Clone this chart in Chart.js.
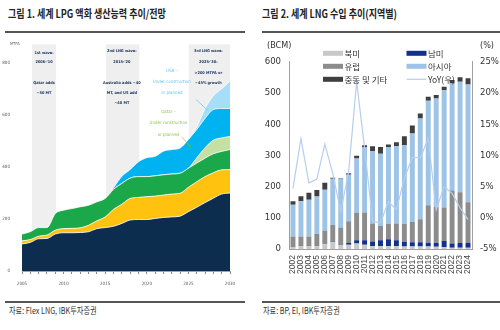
<!DOCTYPE html>
<html>
<head>
<meta charset="utf-8">
<script src="https://cdn.jsdelivr.net/npm/chart.js@4.4.1/dist/chart.umd.min.js"></script>
<style>
  body { margin: 0; width: 500px; height: 330px; background: #fff; position: relative; overflow: hidden; font-family: "Noto Sans CJK KR", sans-serif; }
  .t { position: absolute; white-space: nowrap; transform-origin: 0 50%; color: #222; }
  .title { top: 5px; font-size: 11px; font-weight: bold; transform: scaleX(0.82); }
  .src { top: 304px; font-size: 9px; transform: scaleX(0.8); color: #333; }
  .rule { position: absolute; height: 2px; background: #555; }
  canvas { position: absolute; top: 36px; }
</style>
</head>
<body>
<div class="t title" style="left:8px">그림 1. 세계 LPG 액화 생산능력 추이/전망</div>
<div class="t title" style="left:262px">그림 2. 세계 LNG 수입 추이(지역별)</div>
<div class="rule" style="left:5px; width:240px; top:31px"></div>
<div class="rule" style="left:262px; width:238px; top:31px"></div>
<div class="rule" style="left:5px; width:240px; top:301px"></div>
<div class="rule" style="left:262px; width:238px; top:301px"></div>
<div class="t src" style="left:9px">자료: Flex LNG, IBK투자증권</div>
<div class="t src" style="left:263px">자료: BP, EI, IBK투자증권</div>
<canvas id="cap" width="250" height="264" style="left:0"></canvas>
<canvas id="imp" width="250" height="264" style="left:250px"></canvas>
<script>
const NARROW = '"Liberation Sans Narrow", "DejaVu Sans Condensed", "Liberation Sans", sans-serif';
const KR = '"Noto Sans CJK KR", sans-serif';

// ---- 그림 1: 액화 생산능력 (MTPA) ----
const capYears = [2005, 2006, 2007, 2008, 2009, 2010, 2011, 2012, 2013, 2014, 2015, 2016, 2017,
                  2018, 2019, 2020, 2021, 2022, 2023, 2024, 2025, 2026, 2027, 2028, 2029, 2030];
const otherCap     = [104, 110, 124, 125, 142, 147, 147, 148, 151, 163, 167, 172, 183, 196, 198, 198, 202, 206, 208, 211, 228, 245, 263, 280, 296, 300];
const australiaCap = [12, 11, 10, 13, 15, 16, 17, 18, 25, 30, 41, 65, 74, 83, 85, 88, 86, 86, 88, 88, 94, 98, 100, 98, 93, 90];
const qatarCap     = [26, 30, 33, 29, 64, 71, 76, 81, 77, 73, 71, 77, 80, 78, 80, 77, 78, 78, 77, 77, 73, 72, 71, 73, 71, 77];
const qatarPlanned = [0, 0, 0, 0, 0, 0, 0, 0, 0, 0, 0, 0, 0, 0, 0, 0, 0, 0, 0, 0, 0, 20, 40, 52, 52, 50];
const usCap        = [0, 0, 0, 0, 0, 0, 0, 0, 0, 0, 0, 6, 27, 33, 57, 73, 75, 91, 94, 97, 111, 109, 113, 118, 113, 108];
const usPlanned    = [0, 0, 0, 0, 0, 0, 0, 0, 0, 0, 0, 0, 0, 0, 0, 0, 0, 0, 0, 0, 0, 10, 38, 53, 76, 106];

// ---- 그림 2: 지역별 LNG 수입 (BCM) ----
const importYears = ['2002', '2003', '2004', '2005', '2006', '2007', '2008', '2009', '2010', '2011', '2012', '2013',
                     '2014', '2015', '2016', '2017', '2018', '2019', '2020', '2021', '2022', '2023', '2024'];
const northAmerica    = [5, 8, 8, 10, 15, 22, 13, 14, 18, 14, 10, 9, 9, 10, 8, 8, 8, 8, 7, 6, 4, 4, 4];
const southAmerica    = [0, 0, 0, 0, 0, 1, 1, 5, 10, 14, 14, 19, 22, 18, 15, 14, 14, 12, 12, 20, 14, 15, 16];
const europe          = [35, 32, 32, 38, 44, 54, 55, 70, 88, 89, 58, 46, 49, 54, 57, 65, 73, 120, 116, 107, 169, 163, 130];
const asia            = [102, 113, 118, 120, 131, 148, 156, 149, 174, 208, 232, 231, 247, 248, 252, 283, 323, 335, 347, 376, 343, 354, 377];
const middleEastOther = [11, 16, 22, 21, 22, 3, 2, 5, 9, 7, 15, 22, 8, 12, 29, 26, 16, 13, 11, 11, 11, 14, 20];
const yoyGrowth       = [4.7, 12.7, 5.6, 6.2, 11.8, 7.1, 1.0, 7.4, 21.8, 11.2, -0.5, -0.8, 2.6, 1.3, 6.3, 9.7, 9.6, 12.7, 1.3, 5.0, 3.9, 1.6, -0.3];

// wave boxes and notes of figure 1, in (year, MTPA) units
const waveTop = 872;
const waves = [
  { from: 2006.2, to: 2009.1, cx: 2007.65, lines: [['1st wave:', 840], ["2006-'10", 802], ['Qatar adds', 725], ['~50 MT', 686]] },
  { from: 2015.1, to: 2019.1, cx: 2017.0, lines: [['2nd LNG wave:', 846], ["2015-'20", 802], ['Australia adds ~40', 725], ['MT, and US add', 686], ['~40 MT', 647]] },
  { from: 2025.05, to: 2030, cx: 2027.4, lines: [['3rd LNG wave:', 846], ["2025-'30:", 802], ['>200 MTPA or', 763], ['~45% growth', 725]] }
];
const notes = [
  { color: '#5ec6f2', cx: 2023.0, lines: [['USA \u2013', 768], ['Under construction', 726], ['or planned', 687]], lead: [[2025.9, 660], [2027.3, 619]] },
  { color: '#8dc63f', cx: 2022.6, lines: [['Qatar \u2013', 614], ['Under construction', 570], ['or planned', 525]], lead: [[2024.2, 516], [2025.3, 477]] }
];

const wavePlugin = {
  id: 'waves',
  beforeDatasetsDraw(chart) {
    const { ctx, scales: { x, y } } = chart;
    ctx.save();
    ctx.fillStyle = '#efefef';
    waves.forEach(w => {
      const l = x.getPixelForValue(w.from), r = x.getPixelForValue(w.to);
      const t = y.getPixelForValue(waveTop), b = y.getPixelForValue(0);
      ctx.fillRect(l, t, r - l, b - t);
    });
    ctx.restore();
  },
  afterDatasetsDraw(chart) {
    const { ctx, scales: { x, y } } = chart;
    ctx.save();
    ctx.textAlign = 'center';
    ctx.textBaseline = 'middle';
    ctx.font = 'bold 3.9px ' + NARROW;
    ctx.fillStyle = '#1f3864';
    waves.forEach(w => {
      w.lines.forEach(([s, v]) => ctx.fillText(s, x.getPixelForValue(w.cx), y.getPixelForValue(v)));
    });
    ctx.font = '4.4px ' + NARROW;
    notes.forEach(n => {
      ctx.fillStyle = n.color;
      n.lines.forEach(([s, v]) => ctx.fillText(s, x.getPixelForValue(n.cx), y.getPixelForValue(v)));
      ctx.strokeStyle = n.color;
      ctx.lineWidth = 0.7;
      ctx.beginPath();
      ctx.moveTo(x.getPixelForValue(n.lead[0][0]), y.getPixelForValue(n.lead[0][1]));
      ctx.lineTo(x.getPixelForValue(n.lead[1][0]), y.getPixelForValue(n.lead[1][1]));
      ctx.stroke();
    });
    ctx.fillStyle = '#666';
    ctx.font = '4px ' + NARROW;
    ctx.textAlign = 'left';
    ctx.fillText('MTPA', 10, y.getPixelForValue(waveTop));
    ctx.restore();
  }
};

const layer = (label, data, color, fill) => ({
  label,
  data: data.map((v, i) => ({ x: capYears[i], y: v })),
  backgroundColor: color,
  borderColor: '#ffffff',
  borderWidth: 0.8,
  fill,
  pointRadius: 0,
  cubicInterpolationMode: 'monotone'
});

new Chart('cap', {
  type: 'line',
  data: {
    datasets: [
      layer('Other', otherCap, '#0c2d4e', 'origin'),
      layer('Australia', australiaCap, '#ffc20e', '-1'),
      layer('Qatar', qatarCap, '#1aa84b', '-1'),
      layer('Qatar planned', qatarPlanned, '#c4e0a2', '-1'),
      layer('USA', usCap, '#00b2ef', '-1'),
      layer('USA planned', usPlanned, '#a6defa', '-1')
    ]
  },
  options: {
    responsive: false,
    animation: false,
    devicePixelRatio: 1,
    layout: { padding: { top: 27, right: 20, left: 0, bottom: 0 } },
    plugins: { legend: { display: false }, tooltip: { enabled: false } },
    scales: {
      x: {
        type: 'linear', min: 2005, max: 2030,
        afterFit: s => { s.height = 29; },
        border: { display: true, color: '#8a8a8a', width: 0.8 },
        grid: { display: true, drawOnChartArea: false, drawTicks: true, tickLength: 3, color: '#8a8a8a' },
        ticks: {
          stepSize: 1, autoSkip: false, maxRotation: 0, padding: 7, color: '#555',
          font: { size: 4.5, family: NARROW },
          callback: v => (v % 5 === 0 ? String(v) : '')
        }
      },
      y: {
        stacked: true, min: 0, max: 800,
        afterFit: s => { s.width = 22; },
        border: { display: false },
        grid: { display: false },
        ticks: { stepSize: 200, padding: 4, color: '#555', font: { size: 4.5, family: NARROW } }
      }
    }
  },
  plugins: [wavePlugin]
});

// ---- 그림 2 ----
const legendPlugin = {
  id: 'lngLegend',
  afterDraw(chart) {
    const { ctx, chartArea: a } = chart;
    ctx.save();
    ctx.textBaseline = 'middle';
    ctx.font = '8.5px ' + KR;
    chart.data.datasets.forEach((ds, i) => {
      const col = i % 2, row = Math.floor(i / 2);
      const sx = a.left + 34 + col * 83.5;
      const sy = a.top - 8.4 + row * 13;
      if (ds.type === 'line') {
        ctx.strokeStyle = ds.borderColor;
        ctx.lineWidth = 1.2;
        ctx.beginPath();
        ctx.moveTo(sx, sy);
        ctx.lineTo(sx + 20, sy);
        ctx.stroke();
      } else {
        ctx.fillStyle = ds.backgroundColor;
        ctx.fillRect(sx, sy - 2.5, 20, 5);
      }
      ctx.fillStyle = '#333';
      ctx.fillText(ds.label, sx + 21.5, sy);
    });
    ctx.font = '9px ' + NARROW;
    ctx.fillStyle = '#333';
    ctx.textAlign = 'left';
    ctx.fillText('(BCM)', 17, 10);
    ctx.fillText('(%)', 230, 10);
    ctx.restore();
  }
};

const bar = (label, data, color) => ({
  type: 'bar', label, data, backgroundColor: color, order: 1,
  barPercentage: 0.62, categoryPercentage: 1, yAxisID: 'y'
});

const axisFont = { size: 9.5, family: NARROW };

new Chart('imp', {
  data: {
    labels: importYears,
    datasets: [
      bar('북미', northAmerica, '#c8c8c8'),
      bar('남미', southAmerica, '#13318c'),
      bar('유럽', europe, '#8c8c8c'),
      bar('아시아', asia, '#9dc3e6'),
      bar('중동 및 기타', middleEastOther, '#3f3f3f'),
      {
        type: 'line', label: 'YoY(우)', data: yoyGrowth, yAxisID: 'y1', order: 0,
        borderColor: '#b6cdee', borderWidth: 1.2, pointRadius: 0, fill: false, tension: 0
      }
    ]
  },
  options: {
    responsive: false,
    animation: false,
    devicePixelRatio: 1,
    layout: { padding: { top: 25.7, right: 0, left: 0, bottom: 0 } },
    plugins: { legend: { display: false }, tooltip: { enabled: false } },
    scales: {
      x: {
        stacked: true,
        afterFit: s => { s.height = 51; },
        border: { display: true, color: '#a0a0a0' },
        grid: { display: false, drawTicks: false },
        ticks: { minRotation: 90, maxRotation: 90, autoSkip: false, padding: 6, color: '#444', font: { size: 8.5, family: '"Liberation Sans", sans-serif' } }
      },
      y: {
        stacked: true, min: 0, max: 600,
        afterFit: s => { s.width = 39; },
        border: { display: true, color: '#a0a0a0' },
        grid: { display: false, drawTicks: false },
        ticks: { stepSize: 100, padding: 8, color: '#333', font: axisFont }
      },
      y1: {
        position: 'right', min: -5, max: 25,
        afterFit: s => { s.width = 28; },
        border: { display: true, color: '#a0a0a0' },
        grid: { display: false, drawTicks: false },
        ticks: { stepSize: 5, padding: 8, color: '#333', font: axisFont, callback: v => v + '%' }
      }
    }
  },
  plugins: [legendPlugin]
});
</script>
</body>
</html>
